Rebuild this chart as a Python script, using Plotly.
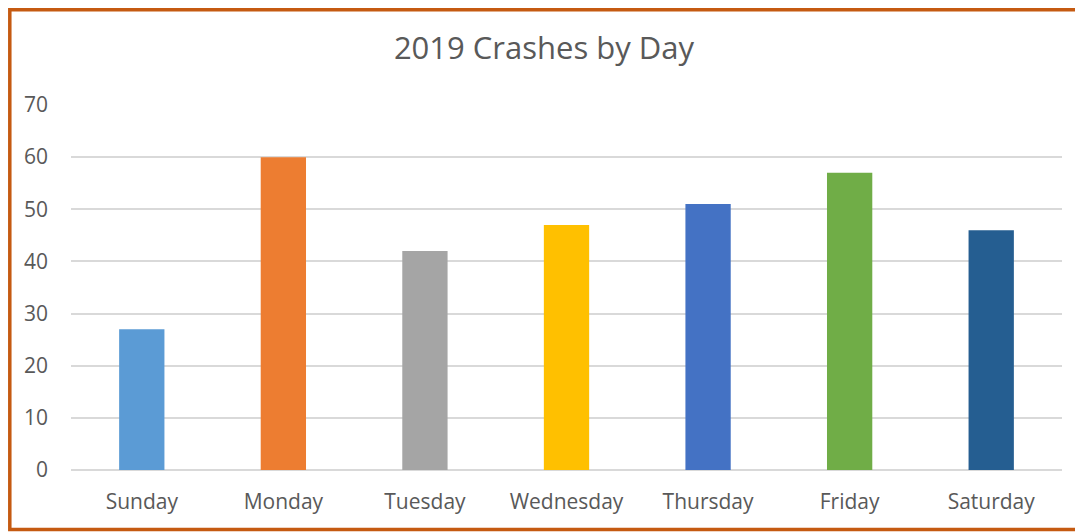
import plotly.graph_objects as go

days = ["Sunday", "Monday", "Tuesday", "Wednesday", "Thursday", "Friday", "Saturday"]
crashes = [27, 60, 42, 47, 51, 57, 46]
bar_colors = ["#5B9BD5", "#ED7D31", "#A5A5A5", "#FFC000", "#4472C4", "#70AD47", "#255E91"]
y_ticks = [0, 10, 20, 30, 40, 50, 60, 70]

# page has an 8px body margin, so work in page pixels and shift
OFF = 8
W, H = 1083 - OFF, 532 - OFF
left, right, top, bottom = 71, 1062, 105, 470  # plot area on the page
ml, mr, mt, mb = left - OFF, W - (right - OFF), top - OFF, H - (bottom - OFF)
pw, ph = W - ml - mr, H - mt - mb


def px_x(p):
    return (p - left) / pw


def px_y(p):
    return (bottom - p) / ph


fig = go.Figure(go.Bar(
    x=days,
    y=crashes,
    marker=dict(color=bar_colors, line=dict(width=0)),
))

# frame: as close to the page corner as the figure allows
edge = OFF + 1.8

fig.update_layout(
    width=W,
    height=H,
    margin=dict(l=ml, r=mr, t=mt, b=mb),
    paper_bgcolor="white",
    plot_bgcolor="white",
    bargap=0.68,
    showlegend=False,
    font=dict(family="Open Sans", color="#595959"),
    title=dict(
        text="2019 Crashes by Day",
        x=(544 - OFF) / W, xref="container", xanchor="center",
        y=1 - (48 - OFF) / H, yref="container", yanchor="middle",
        font=dict(size=31, color="#595959"),
    ),
    xaxis=dict(
        showgrid=False,
        showline=False,
        tickfont=dict(size=21, color="#595959"),
        ticklabelstandoff=17,
    ),
    yaxis=dict(
        range=[0, 70],
        tickvals=y_ticks,
        showgrid=True,
        gridcolor="#D9D9D9",
        gridwidth=1.5,
        zeroline=True,
        zerolinecolor="#D9D9D9",
        zerolinewidth=1.5,
        showline=False,
        tickfont=dict(size=21, color="#595959"),
        ticklabelstandoff=22,
    ),
    shapes=[dict(
        type="rect", xref="paper", yref="paper",
        x0=px_x(edge), x1=px_x(1095), y0=px_y(529.5), y1=px_y(edge),
        line=dict(color="#C55A11", width=3.5),
        fillcolor="rgba(0,0,0,0)",
        layer="above",
    )],
)

fig.write_html("out.html")
